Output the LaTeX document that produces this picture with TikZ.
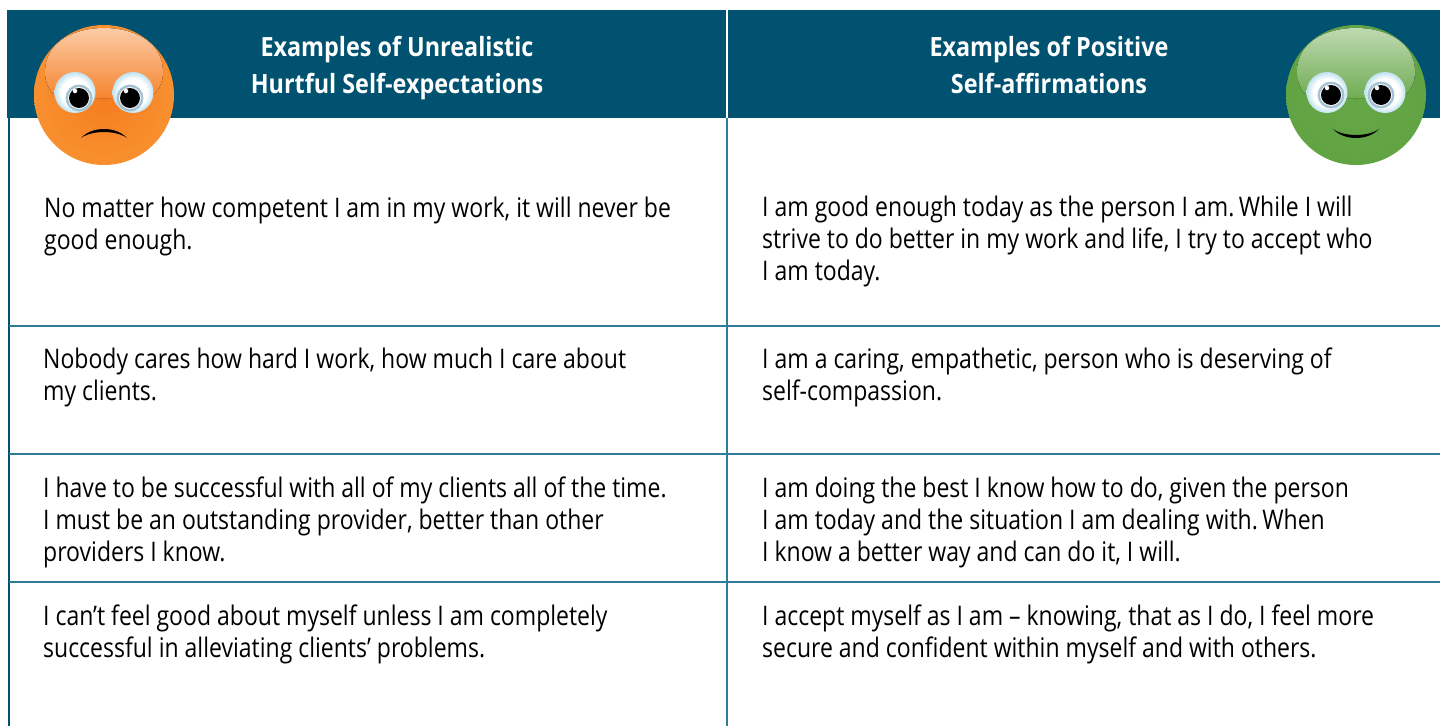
\documentclass[tikz,border=0pt]{standalone}
\usepackage{fontspec}
\setmainfont[FakeStretch=0.852,BoldFeatures={FakeStretch=0.882}]{Open Sans}
\usetikzlibrary{calc}
\definecolor{hdr}{HTML}{005270}
\definecolor{rulec}{HTML}{2F7C98}
\definecolor{orangeF}{HTML}{F57C20}
\definecolor{orangeE}{HTML}{F8902F}
\definecolor{greenF}{HTML}{65A646}
\definecolor{greenE}{HTML}{62A444}
\definecolor{eyeE}{HTML}{BFE2F0}
\definecolor{irisE}{HTML}{A3C2D2}
\pgfdeclareradialshading{eyeshade}{\pgfpoint{0bp}{0bp}}{color(0bp)=(white); color(17bp)=(white); color(25bp)=(eyeE); color(50bp)=(eyeE)}
\newcommand{\fs}{\rule{0pt}{20pt}}
\tikzset{
  x=1pt,y=-1pt,
  cell/.style={anchor=north west,inner sep=0pt,align=left,text=black,font=\fontsize{27}{32}\selectfont},
  headtext/.style={anchor=north,inner sep=0pt,align=center,text=white,font=\bfseries\fontsize{26.5}{36.5}\selectfont},
  rowline/.style={draw=rulec,line width=1.6pt},
  eyewhite/.style={circle,minimum size=41pt,inner sep=0pt,shading=eyeshade},
  iris/.style={circle,minimum size=24.5pt,inner sep=0pt,fill=white,draw=irisE,line width=2.4pt},
  pupil/.style={circle,minimum size=20pt,inner sep=0pt,fill=black},
  glint/.style={circle,minimum size=4.5pt,inner sep=0pt,fill=white},
  facedisc/.style n args={2}{circle,minimum size=140pt,inner sep=0pt,inner color=#1,outer color=#2},
}
\begin{document}
\begin{tikzpicture}
\useasboundingbox (0,0) rectangle (1440,726);
\fill[white] (0,0) rectangle (1440,726);
% header band and frame
\fill[hdr] (7,10) rectangle (1440,118);
\fill[hdr] (7.5,118) rectangle (10,726);
\draw[white,line width=1.6pt] (727,10) -- (727,118);
\draw[rowline] (727,118) -- (727,726);
\draw[rowline] (9,326) -- (1440,326);
\draw[rowline] (9,454) -- (1440,454);
\draw[rowline] (9,582) -- (1440,582);
% header text
\node[headtext] (hl) at (397,36.5) {\rule{0pt}{20pt}Examples of Unrealistic\\Hurtful Self-expectations};
\node[headtext] (hr) at (1049,36.5) {\rule{0pt}{20pt}Examples of Positive\\Self-affirmations};
% body cells
\node[cell] (a1) at (44,197) {\fs No matter how competent I am in my work, it will never be\\good enough.};
\node[cell] (b1) at (762,196) {\fs I am good enough today as the person I am.\,While I will\\strive to do better in my work and life, I try to accept who\\I am today.};
\node[cell] (a2) at (43,348) {\fs Nobody cares how hard I work, how much I care about\\my clients.};
\node[cell] (b2) at (762,348) {\fs I am a caring, empathetic, person who is deserving of\\self-compassion.};
\node[cell] (a3) at (43,477) {\fs I have to be successful with all of my clients all of the time.\\I must be an outstanding provider, better than other\\providers I know.};
\node[cell] (b3) at (762,477) {\fs I am doing the best I know how to do, given the person\\I am today and the situation I am dealing with.\,When\\I know a better way and can do it, I will.};
\node[cell] (a4) at (43,605) {\fs I can’t feel good about myself unless I am completely\\successful in alleviating clients’ problems.};
\node[cell] (b4) at (762,605) {\fs I accept myself as I am – knowing, that as I do, I feel more\\secure and confident within myself and with others.};
% sad face
\node[facedisc={orangeF}{orangeE}] (sad) at (104,95) {};
\fill[top color=white!60!orangeF,bottom color=white!6!orangeF,draw=none]
  (45,72) .. controls (45,42) and (74,28) .. (104,28) .. controls (134,28) and (163,42) .. (163,72)
  .. controls (163,80) and (160,88) .. (155,93) .. controls (140,100) and (68,100) .. (52,93)
  .. controls (48,88) and (45,80) .. (45,72) -- cycle;
\node[eyewhite] (sl) at (75,92.5) {};
\node[eyewhite] (sr) at (133,92.5) {};
\node[iris] (sli) at (79,98) {};
\node[iris] (sri) at (130,98) {};
\node[pupil] at (sli) {};
\node[pupil] at (sri) {};
\node[glint] at ($(sli)+(-4,-7)$) {};
\node[glint] at ($(sri)+(-4,-7)$) {};
\fill[black] (81,138) .. controls (92,126) and (116,126) .. (127,138) .. controls (116,130) and (92,130) .. (81,138) -- cycle;
% happy face
\node[facedisc={greenF}{greenE}] (happy) at (1356,95) {};
\fill[top color=white!58!greenF,bottom color=white!6!greenF,draw=none]
  (1297,72) .. controls (1297,42) and (1326,28) .. (1356,28) .. controls (1386,28) and (1415,42) .. (1415,72)
  .. controls (1415,80) and (1412,88) .. (1407,93) .. controls (1392,100) and (1320,100) .. (1304,93)
  .. controls (1300,88) and (1297,80) .. (1297,72) -- cycle;
\node[eyewhite] (hl2) at (1327,92.5) {};
\node[eyewhite] (hr2) at (1385,92.5) {};
\node[iris] (hli) at (1331,95) {};
\node[iris] (hri) at (1381,95) {};
\node[pupil] at (hli) {};
\node[pupil] at (hri) {};
\node[glint] at ($(hli)+(-4,-7)$) {};
\node[glint] at ($(hri)+(-4,-7)$) {};
\fill[black] (1333,129) .. controls (1344,141) and (1368,141) .. (1379,129) .. controls (1368,137) and (1344,137) .. (1333,129) -- cycle;
\end{tikzpicture}
\end{document}
